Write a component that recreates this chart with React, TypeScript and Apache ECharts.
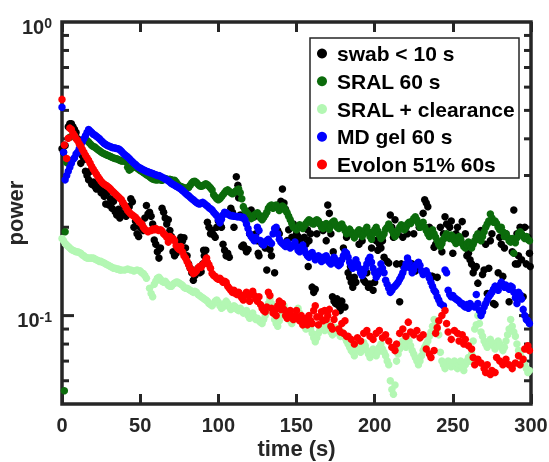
import React, { useEffect, useRef } from 'react';
import * as echarts from 'echarts';

const seriesNames = ['swab < 10 s', 'SRAL 60 s', 'SRAL + clearance', 'MD gel 60 s', 'Evolon 51% 60s'];
const seriesColors = ['#000000', '#0b6b0b', '#b3f7b3', '#0000ff', '#ff0000'];

const swab: number[][] = [
  [0,0.37],[1,0.36],[2,0.38],[4,0.44],[5,0.45],[6,0.45],[7,0.44],[8,0.43],[9,0.42],[10,0.4],[11,0.39],[12,0.33],[13,0.35],[14,0.34],[15,0.31],[16,0.3],[17,0.29],[18,0.31],[19,0.28],[20,0.285],[21,0.275],[22,0.27],[23,0.28],[24,0.27],[25,0.262],[26,0.268],[27,0.255],[28,0.24],[29,0.262],[30,0.238],[31,0.25],[32,0.232],[33,0.245],[34,0.226],[35,0.22],[36,0.23],[37,0.215],[38,0.223],[39,0.24],[40,0.235],[41,0.218],[42,0.228],[43,0.235],[44,0.25],[45,0.244],[46,0.2],[47,0.21],[48,0.19],[49,0.186],[50,0.2],[51,0.205],[52,0.195],[53,0.215],[54,0.237],[55,0.222],[56,0.225],[57,0.218],[58,0.205],[59,0.181],[60,0.175],[61,0.165],[62,0.157],[62.5,0.169],[63,0.17],[64,0.232],[65,0.225],[66,0.215],[67,0.205],[68,0.212],[69,0.195],[70,0.186],[71,0.165],[72,0.16],[73,0.163],[74,0.17],[75,0.18],[76,0.185],[77,0.179],[78,0.184],[79,0.17],[80,0.16],[81,0.15],[82,0.145],[83,0.14],[84,0.132],[85,0.137],[86,0.142],[87,0.145],[88,0.14],[89,0.141],[90,0.15],[90.6,0.167],[91,0.16],[92,0.167],[93,0.208],[94,0.2],[95,0.19],[96,0.195],[97,0.188],[98,0.185],[99,0.2],[100,0.21],[101,0.205],[102,0.2],[103,0.175],[104,0.167],[105,0.16],[106,0.163],[107,0.158],[108,0.232],[109,0.225],[110,0.2],[111.5,0.297],[112.5,0.278],[113,0.252],[114,0.22],[115,0.172],[116,0.174],[117,0.17],[118,0.165],[119,0.168],[120,0.19],[121,0.229],[122,0.22],[123,0.217],[124,0.19],[125,0.18],[125.5,0.163],[126,0.16],[128,0.175],[129,0.176],[130,0.17],[131,0.143],[133,0.168],[134,0.16],[136,0.14],[138,0.195],[139,0.19],[140,0.245],[141,0.27],[142,0.242],[143,0.23],[144,0.18],[145,0.196],[147,0.185],[148,0.205],[150,0.19],[151,0.186],[152,0.18],[153,0.2],[155,0.185],[156,0.175],[157,0.196],[157.5,0.147],[158,0.18],[159,0.19],[160,0.125],[161,0.12],[162,0.123],[163,0.19],[165,0.205],[167,0.195],[168,0.2],[169,0.18],[170,0.238],[171,0.223],[172,0.19],[173,0.116],[173.5,0.165],[174,0.112],[175,0.11],[176,0.114],[177,0.108],[178,0.104],[179,0.112],[180,0.17],[181,0.107],[182,0.185],[183,0.14],[184,0.135],[184.5,0.147],[185,0.13],[186,0.125],[187,0.135],[188,0.13],[190,0.175],[192,0.18],[193,0.132],[194,0.13],[195,0.14],[196,0.125],[197,0.128],[198,0.17],[199,0.122],[200,0.13],[201,0.18],[202,0.167],[203,0.175],[204,0.17],[205,0.18],[206,0.158],[208,0.153],[209,0.151],[210,0.22],[211,0.2],[212,0.185],[213,0.212],[214,0.15],[215,0.19],[216,0.1115],[217,0.15],[218,0.185],[219,0.145],[220,0.2],[221,0.19],[222,0.148],[224,0.15],[225,0.19],[226,0.142],[228,0.145],[228.5,0.2],[230,0.205],[231,0.223],[232,0.248],[233,0.242],[234,0.235],[235,0.2],[236.5,0.136],[237,0.136],[238,0.171],[239,0.175],[240,0.135],[242,0.2],[243,0.165],[244,0.19],[245,0.217],[246,0.205],[247,0.185],[248,0.2],[249,0.21],[250,0.163],[252,0.19],[253,0.2],[254,0.185],[255,0.18],[256,0.209],[258,0.19],[259,0.16],[260,0.163],[261,0.155],[262,0.15],[263,0.14],[264,0.145],[265,0.147],[266,0.129],[267,0.185],[268,0.195],[269,0.138],[270,0.143],[271,0.175],[272,0.119],[273,0.145],[274,0.18],[275,0.19],[276,0.11],[277,0.109],[279,0.14],[280,0.185],[281,0.175],[282,0.136],[283,0.17],[284,0.19],[286,0.1115],[288,0.165],[289,0.229],[290,0.15],[291,0.19],[291.5,0.15],[292,0.16],[293,0.2],[294,0.155],[295,0.116],[296,0.2],[297,0.15],[298,0.185],[299,0.163],[299.5,0.147]
];

const sral60: number[][] = [
  [1.5,0.0555],[2,0.193],[3,0.332],[5,0.405],[7,0.41],[16,0.395],[17,0.39],[18,0.385],[19,0.38],[20,0.377],[21,0.375],[22,0.371],[23,0.367],[24,0.364],[25,0.361],[26,0.358],[27,0.356],[28,0.354],[29,0.352],[30,0.35],[31,0.348],[32,0.346],[33,0.344],[34,0.343],[35,0.342],[36,0.34],[37,0.338],[38,0.336],[39,0.336],[40,0.337],[41,0.334],[42,0.32],[43,0.313],[44,0.316],[45,0.32],[46,0.322],[47,0.321],[48,0.318],[49,0.315],[50,0.312],[51,0.31],[52,0.307],[53,0.305],[54,0.302],[55,0.3],[56,0.297],[57,0.294],[58,0.292],[59,0.291],[60,0.29],[61,0.29],[62,0.291],[63,0.29],[64,0.289],[65,0.291],[66,0.293],[67,0.292],[68,0.29],[69,0.291],[70,0.29],[72,0.289],[73,0.285],[74,0.28],[75,0.277],[76,0.275],[77,0.274],[78,0.272],[79,0.272],[80,0.272],[81,0.273],[82,0.278],[83,0.283],[84,0.286],[85,0.287],[86,0.284],[87,0.28],[88,0.277],[89,0.276],[90,0.277],[91,0.279],[92,0.281],[93,0.279],[94,0.276],[95,0.272],[96,0.268],[97,0.258],[98,0.254],[99,0.25],[100,0.248],[101,0.25],[102,0.254],[103,0.258],[104,0.262],[105,0.266],[106,0.268],[107,0.265],[108,0.262],[109,0.26],[110,0.262],[111,0.265],[112,0.268],[113,0.27],[114,0.262],[115,0.25],[116,0.235],[117,0.229],[118,0.225],[119,0.222],[120,0.218],[121,0.214],[122,0.216],[123,0.22],[124,0.222],[125,0.224],[126,0.22],[127,0.215],[128,0.212],[129,0.216],[130,0.22],[131,0.225],[132,0.232],[133,0.236],[134,0.238],[135,0.232],[136,0.234],[137,0.238],[138,0.234],[139,0.228],[140,0.232],[141,0.236],[142,0.234],[143,0.228],[144,0.224],[145,0.218],[146,0.212],[147,0.206],[148,0.2],[149,0.198],[150,0.196],[151,0.2],[152,0.204],[153,0.2],[154,0.198],[155,0.202],[156,0.206],[157,0.209],[158,0.212],[159,0.21],[160,0.206],[161,0.205],[162,0.21],[163,0.212],[164,0.21],[165,0.205],[166,0.2],[167,0.198],[168,0.203],[169,0.206],[170,0.2],[171,0.197],[172,0.202],[173,0.208],[174,0.21],[175,0.205],[176,0.2],[177,0.198],[178,0.2],[179,0.205],[180,0.2],[181,0.195],[182,0.19],[183,0.193],[184,0.197],[185,0.193],[186,0.188],[187,0.184],[188,0.188],[189,0.193],[190,0.196],[191,0.19],[192,0.186],[193,0.19],[194,0.196],[195,0.2],[196,0.193],[197,0.186],[198,0.182],[199,0.19],[200,0.196],[201,0.2],[202,0.194],[203,0.188],[204,0.183],[205,0.186],[206,0.19],[207,0.197],[208,0.2],[209,0.205],[210,0.2],[211,0.195],[212,0.19],[213,0.186],[214,0.19],[215,0.195],[216,0.2],[217,0.204],[218,0.2],[219,0.196],[220,0.2],[221,0.205],[222,0.208],[223,0.206],[224,0.21],[225,0.214],[226,0.217],[227,0.212],[228,0.206],[229,0.2],[230,0.204],[231,0.208],[232,0.2],[233,0.195],[234,0.19],[235,0.186],[236,0.19],[237,0.196],[238,0.19],[239,0.185],[240,0.18],[241,0.175],[242,0.172],[243,0.176],[244,0.182],[245,0.186],[246,0.19],[247,0.187],[248,0.183],[249,0.188],[250,0.186],[251,0.18],[252,0.176],[253,0.18],[254,0.186],[255,0.182],[256,0.176],[257,0.172],[258,0.17],[259,0.174],[260,0.178],[261,0.174],[262,0.17],[263,0.175],[264,0.18],[265,0.186],[266,0.19],[267,0.185],[268,0.18],[269,0.186],[270,0.193],[271,0.2],[272,0.205],[273,0.21],[274,0.222],[275,0.215],[276,0.208],[277,0.21],[278,0.206],[279,0.2],[280,0.196],[281,0.2],[282,0.193],[283,0.186],[284,0.19],[285,0.185],[286,0.18],[287,0.178],[288,0.183],[289,0.163],[290,0.177],[291,0.184],[292,0.19],[293,0.193],[294,0.19],[295,0.186],[296,0.183],[297,0.186],[298,0.182],[299,0.18]
];

const sralClearance: number[][] = [
  [0,0.183],[1,0.18],[2,0.176],[3,0.174],[4,0.172],[5,0.17],[6,0.168],[7,0.167],[8,0.166],[9,0.165],[10,0.165],[11,0.164],[12,0.163],[13,0.161],[14,0.16],[15,0.158],[16,0.157],[17,0.157],[18,0.157],[19,0.157],[20,0.157],[21,0.156],[22,0.155],[23,0.154],[24,0.153],[25,0.153],[26,0.152],[27,0.151],[28,0.15],[29,0.149],[30,0.148],[31,0.147],[32,0.146],[33,0.145],[34,0.145],[35,0.144],[36,0.144],[37,0.143],[38,0.143],[40,0.143],[42,0.144],[44,0.143],[46,0.142],[48,0.143],[50,0.142],[51,0.14],[52,0.139],[53,0.137],[54,0.134],[56,0.124],[57,0.119],[58,0.116],[59,0.128],[60,0.131],[61,0.134],[62,0.135],[63,0.133],[64,0.131],[65,0.13],[66,0.131],[67,0.129],[68,0.127],[69,0.126],[70,0.126],[71,0.128],[72,0.129],[73,0.13],[74,0.13],[75,0.129],[76,0.128],[77,0.127],[78,0.125],[79,0.124],[80,0.124],[81,0.123],[82,0.122],[83,0.121],[84,0.12],[85,0.121],[86,0.12],[87,0.118],[88,0.117],[89,0.116],[90,0.115],[91,0.114],[92,0.113],[93,0.112],[94,0.11],[95,0.109],[96,0.108],[97,0.11],[98,0.112],[99,0.113],[100,0.111],[101,0.108],[102,0.106],[103,0.107],[104,0.11],[105,0.112],[106,0.11],[107,0.107],[108,0.105],[109,0.106],[110,0.108],[111,0.107],[112,0.105],[113,0.104],[114,0.106],[115,0.104],[116,0.102],[117,0.103],[118,0.104],[119,0.1],[120,0.098],[121,0.1],[122,0.102],[123,0.099],[124,0.097],[125,0.098],[126,0.096],[127,0.095],[128,0.094],[129,0.097],[130,0.1],[131,0.104],[132,0.11],[133,0.114],[134,0.11],[135,0.103],[136,0.097],[137,0.094],[138,0.092],[139,0.096],[140,0.1],[141,0.105],[142,0.108],[143,0.104],[144,0.1],[145,0.097],[146,0.096],[147,0.094],[148,0.097],[149,0.1],[150,0.103],[151,0.106],[152,0.102],[153,0.098],[154,0.095],[155,0.092],[156,0.09],[157,0.092],[158,0.095],[159,0.09],[160,0.087],[161,0.084],[162,0.0815],[163,0.084],[164,0.087],[165,0.09],[166,0.093],[167,0.091],[168,0.089],[169,0.09],[170,0.094],[171,0.092],[172,0.088],[173,0.086],[174,0.088],[175,0.091],[176,0.09],[177,0.087],[178,0.085],[179,0.088],[180,0.086],[181,0.084],[182,0.082],[183,0.08],[184,0.078],[185,0.076],[186,0.075],[187,0.073],[188,0.076],[189,0.079],[190,0.077],[191,0.075],[192,0.078],[193,0.081],[194,0.079],[195,0.076],[196,0.074],[197,0.072],[198,0.074],[199,0.077],[200,0.075],[201,0.073],[202,0.075],[203,0.078],[204,0.08],[205,0.077],[206,0.075],[207,0.073],[208,0.07],[209,0.068],[210,0.06],[211,0.056],[212,0.054],[213,0.058],[214,0.07],[215,0.074],[216,0.077],[217,0.08],[218,0.082],[219,0.08],[220,0.078],[221,0.08],[222,0.082],[223,0.079],[224,0.076],[225,0.074],[226,0.072],[227,0.07],[228,0.068],[229,0.07],[230,0.073],[231,0.076],[232,0.078],[233,0.08],[234,0.082],[235,0.085],[236,0.088],[237,0.092],[238,0.097],[239,0.094],[240,0.09],[241,0.086],[242,0.075],[243,0.07],[244,0.068],[245,0.066],[246,0.068],[247,0.07],[248,0.069],[249,0.067],[250,0.068],[251,0.07],[252,0.067],[253,0.066],[254,0.068],[255,0.07],[256,0.067],[257,0.065],[258,0.068],[259,0.07],[260,0.072],[261,0.07],[262,0.074],[263,0.082],[264,0.09],[265,0.093],[266,0.1],[267,0.094],[268,0.088],[269,0.085],[270,0.082],[271,0.08],[272,0.078],[273,0.08],[274,0.083],[275,0.081],[276,0.079],[277,0.077],[278,0.079],[279,0.082],[280,0.08],[281,0.078],[282,0.076],[283,0.078],[284,0.082],[285,0.086],[286,0.09],[287,0.097],[288,0.092],[289,0.088],[290,0.085],[291,0.08],[292,0.076],[293,0.074],[294,0.072],[295,0.07],[296,0.068],[297,0.066],[298,0.064],[299,0.065]
];

const mdGel: number[][] = [
  [0,0.512],[1,0.36],[2,0.29],[3,0.3],[4,0.31],[5,0.32],[6,0.33],[7,0.34],[8,0.345],[9,0.355],[10,0.36],[11,0.37],[12,0.378],[13,0.39],[14,0.4],[15,0.41],[16,0.42],[17,0.43],[18,0.425],[19,0.42],[20,0.415],[21,0.412],[22,0.408],[23,0.404],[24,0.4],[25,0.395],[26,0.39],[27,0.386],[28,0.383],[29,0.38],[30,0.378],[31,0.376],[32,0.374],[33,0.373],[34,0.372],[35,0.371],[36,0.37],[37,0.367],[38,0.363],[39,0.358],[40,0.354],[41,0.35],[42,0.347],[43,0.343],[44,0.338],[45,0.334],[46,0.33],[47,0.327],[48,0.323],[49,0.32],[50,0.318],[51,0.316],[52,0.314],[53,0.312],[54,0.31],[55,0.309],[56,0.307],[57,0.306],[58,0.305],[59,0.303],[60,0.302],[61,0.3],[62,0.3],[63,0.298],[64,0.296],[65,0.294],[66,0.292],[67,0.29],[68,0.288],[69,0.285],[70,0.282],[71,0.28],[72,0.278],[73,0.276],[74,0.274],[75,0.272],[76,0.27],[77,0.267],[78,0.264],[79,0.261],[80,0.258],[81,0.256],[82,0.253],[83,0.25],[84,0.248],[85,0.245],[86,0.243],[87,0.241],[88,0.24],[89,0.242],[90,0.243],[91,0.241],[92,0.238],[93,0.236],[94,0.233],[95,0.231],[96,0.229],[97,0.225],[98,0.222],[99,0.219],[100,0.212],[101,0.207],[102,0.213],[103,0.22],[104,0.225],[105,0.224],[106,0.222],[107,0.22],[108,0.219],[109,0.219],[110,0.218],[111,0.218],[112,0.217],[113,0.217],[114,0.217],[115,0.216],[116,0.216],[117,0.212],[118,0.205],[119,0.198],[120,0.19],[121,0.186],[122,0.183],[123,0.18],[124,0.185],[125,0.2],[126,0.195],[127,0.18],[128,0.176],[129,0.174],[130,0.178],[131,0.18],[132,0.182],[133,0.178],[134,0.176],[135,0.19],[136,0.198],[137,0.2],[138,0.19],[139,0.182],[140,0.178],[141,0.176],[142,0.174],[143,0.172],[144,0.178],[145,0.175],[146,0.17],[147,0.172],[148,0.174],[149,0.178],[150,0.172],[151,0.167],[152,0.165],[153,0.17],[154,0.174],[155,0.168],[156,0.163],[157,0.16],[158,0.158],[159,0.162],[160,0.164],[161,0.16],[162,0.155],[163,0.158],[164,0.16],[165,0.157],[166,0.153],[167,0.158],[168,0.155],[169,0.16],[170,0.156],[171,0.152],[172,0.15],[173,0.155],[174,0.158],[175,0.155],[176,0.15],[177,0.148],[178,0.15],[179,0.155],[180,0.16],[181,0.165],[182,0.163],[183,0.158],[184,0.152],[185,0.148],[186,0.145],[187,0.15],[188,0.155],[189,0.15],[190,0.145],[191,0.14],[192,0.137],[193,0.14],[194,0.145],[195,0.15],[196,0.155],[197,0.158],[198,0.152],[199,0.145],[200,0.14],[201,0.135],[202,0.138],[203,0.142],[204,0.15],[205,0.145],[206,0.14],[207,0.132],[208,0.128],[209,0.124],[210,0.12],[211,0.122],[212,0.125],[213,0.126],[214,0.128],[215,0.13],[216,0.133],[217,0.136],[218,0.14],[219,0.145],[220,0.15],[221,0.157],[222,0.152],[223,0.145],[224,0.14],[225,0.143],[226,0.148],[227,0.15],[228,0.152],[229,0.148],[230,0.142],[231,0.138],[232,0.14],[233,0.142],[234,0.138],[235,0.134],[236,0.13],[237,0.126],[238,0.122],[239,0.12],[240,0.116],[241,0.113],[242,0.11],[244,0.108],[245,0.143],[246,0.14],[247,0.122],[248,0.118],[249,0.116],[250,0.117],[251,0.115],[252,0.114],[253,0.113],[254,0.112],[255,0.11],[256,0.11],[257,0.108],[258,0.107],[259,0.109],[260,0.106],[261,0.11],[262,0.108],[264,0.107],[265,0.118],[266,0.11],[267,0.104],[268,0.1],[269,0.103],[270,0.107],[271,0.11],[272,0.113],[273,0.116],[274,0.118],[275,0.12],[276,0.123],[277,0.126],[278,0.125],[279,0.122],[280,0.127],[281,0.13],[282,0.128],[283,0.125],[284,0.127],[285,0.125],[286,0.123],[287,0.126],[288,0.125],[289,0.12],[290,0.115],[291,0.11],[292,0.12],[293,0.118],[294,0.114],[295,0.105],[296,0.1],[297,0.097],[298,0.096],[299,0.094]
];

const evolon: number[][] = [
  [0,0.545],[1.5,0.381],[3,0.343],[4,0.402],[5,0.435],[6,0.43],[7,0.418],[8,0.41],[9,0.4],[10,0.395],[11,0.385],[12,0.378],[13,0.368],[14,0.36],[15,0.352],[16,0.345],[17,0.338],[18,0.33],[19,0.322],[20,0.315],[21,0.309],[22,0.303],[23,0.297],[24,0.292],[25,0.287],[26,0.283],[27,0.28],[28,0.278],[29,0.276],[30,0.273],[31,0.27],[32,0.266],[33,0.263],[34,0.26],[35,0.257],[36,0.254],[37,0.251],[38,0.248],[39,0.243],[40,0.238],[41,0.233],[42,0.228],[43,0.225],[44,0.222],[45,0.22],[46,0.218],[47,0.216],[48,0.213],[49,0.21],[50,0.207],[51,0.205],[52,0.2],[53,0.197],[54,0.195],[55,0.193],[57,0.195],[58,0.197],[59,0.196],[60,0.198],[61,0.196],[62,0.195],[63,0.196],[64,0.194],[65,0.19],[66,0.188],[67,0.185],[68,0.178],[69,0.186],[70,0.182],[71,0.183],[72,0.18],[73,0.173],[74,0.17],[75,0.168],[76,0.172],[77,0.165],[78,0.16],[79,0.157],[80,0.153],[81,0.149],[82,0.145],[83,0.142],[84,0.139],[85,0.14],[86,0.142],[87,0.145],[88,0.147],[89,0.146],[90,0.149],[91,0.151],[92,0.155],[92.5,0.157],[93,0.152],[94,0.149],[95,0.145],[96,0.139],[97,0.137],[98,0.136],[99,0.134],[100,0.133],[101,0.134],[102,0.132],[103,0.13],[104,0.131],[105,0.13],[106,0.126],[107,0.124],[108,0.122],[109,0.12],[110,0.122],[111,0.119],[112,0.118],[113,0.12],[114,0.117],[115,0.115],[116,0.113],[117,0.118],[118,0.12],[119,0.117],[120,0.112],[121,0.118],[122,0.121],[123,0.117],[124,0.114],[125,0.112],[126,0.116],[127,0.109],[128,0.106],[129,0.104],[130,0.103],[131,0.107],[132,0.12],[133,0.117],[134,0.106],[135,0.102],[136,0.104],[137,0.1],[138,0.108],[139,0.112],[140,0.105],[141,0.11],[142,0.105],[143,0.1],[144,0.098],[145,0.102],[146,0.104],[147,0.099],[148,0.097],[149,0.1],[150,0.104],[151,0.098],[152,0.096],[153,0.1],[154,0.093],[155,0.095],[156,0.098],[157,0.093],[158,0.1],[159,0.096],[160,0.094],[161,0.104],[162,0.108],[163,0.099],[164,0.093],[165,0.099],[166,0.103],[167,0.096],[168,0.104],[169,0.097],[170,0.1],[171,0.105],[172,0.092],[173,0.09],[174,0.097],[175,0.102],[177,0.09],[178,0.088],[179,0.094],[180,0.087],[181,0.096],[182,0.085],[183,0.085],[185,0.083],[187,0.08],[189,0.084],[191,0.082],[193,0.087],[195,0.089],[197,0.085],[199,0.083],[201,0.087],[203,0.089],[205,0.084],[207,0.086],[209,0.082],[211,0.078],[213,0.076],[214,0.08],[216,0.087],[218,0.09],[220,0.085],[221.5,0.095],[223,0.088],[225,0.086],[227,0.089],[229,0.084],[231,0.086],[233,0.077],[235,0.074],[236,0.072],[238,0.076],[239,0.087],[240,0.091],[241,0.096],[243,0.1],[245,0.104],[246,0.094],[247,0.088],[249,0.083],[251,0.089],[253,0.087],[254,0.082],[256,0.086],[257,0.08],[258,0.083],[260,0.079],[262,0.077],[263,0.072],[264,0.068],[266,0.071],[268,0.069],[270,0.066],[271,0.064],[272,0.068],[274,0.063],[275,0.065],[277,0.064],[278,0.072],[280,0.07],[282,0.068],[284,0.071],[286,0.068],[288,0.066],[290,0.069],[292,0.073],[293,0.068],[295,0.071],[296,0.077],[298,0.079],[299,0.076]
];

const xTickInterval = 50;
const xMin = 0;
const xMax = 300;
const yMin = 0.05;
const yMax = 1;
const yMajorTicks = [0.1];
const yMinorTicks = [0.06, 0.07, 0.08, 0.09, 0.2, 0.3, 0.4, 0.5, 0.6, 0.7, 0.8, 0.9];

const FONT = '"Liberation Sans", Arial, Helvetica, sans-serif';
const AX = '#262626';

export default function App() {
  const ref = useRef<HTMLDivElement>(null);
  useEffect(() => {
    const chart = echarts.init(ref.current as HTMLDivElement, null, { renderer: 'svg' });
    const allData = [swab, sral60, sralClearance, mdGel, evolon];
    const scatterSeries = allData.map((d, i) => ({
      name: seriesNames[i],
      type: 'scatter',
      data: d,
      symbol: 'circle',
      symbolSize: 7.5,
      clip: false,
      itemStyle: { color: seriesColors[i], opacity: 1 },
      emphasis: { disabled: true },
    }));
    const tickData = [
      ...yMajorTicks.map((v) => [xMin, v, 1]),
      ...yMinorTicks.map((v) => [xMin, v, 0]),
    ];
    chart.setOption({
      animation: false,
      textStyle: { fontFamily: FONT },
      grid: {
        left: 62, right: 18, top: 22, bottom: 58,
        outerBoundsMode: 'none',
        containLabel: false,
        show: true, borderColor: AX, borderWidth: 3.5, backgroundColor: 'transparent',
      },
      legend: {
        data: seriesNames,
        orient: 'vertical',
        left: 310, top: 38,
        backgroundColor: '#ffffff',
        borderColor: AX, borderWidth: 1.5, borderRadius: 0,
        padding: [5, 4, 3, 7],
        itemWidth: 20, itemHeight: 10, itemGap: 6.75,
        icon: 'circle',
        selectedMode: false,
        textStyle: { fontFamily: FONT, fontWeight: 'bold', fontSize: 21, lineHeight: 20, color: '#000' },
      },
      xAxis: [
        {
          type: 'value', min: xMin, max: xMax, interval: xTickInterval,
          name: 'time (s)', nameLocation: 'middle', nameGap: 33, nameMoveOverlap: false,
          nameTextStyle: { fontFamily: FONT, fontWeight: 'bold', fontSize: 22, color: AX },
          axisLine: { show: false },
          axisTick: { show: true, inside: true, length: 10, lineStyle: { color: AX, width: 3 } },
          axisLabel: { margin: 11, fontFamily: FONT, fontWeight: 'bold', fontSize: 20, color: AX },
          splitLine: { show: false },
        },
        {
          type: 'value', position: 'top', min: xMin, max: xMax, interval: xTickInterval,
          axisLine: { show: false },
          axisTick: { show: true, inside: true, length: 10, lineStyle: { color: AX, width: 3 } },
          axisLabel: { show: false },
          splitLine: { show: false },
        },
      ],
      yAxis: {
        type: 'log', logBase: 10, min: yMin, max: yMax,
        name: 'power', nameLocation: 'middle', nameGap: 36, nameMoveOverlap: false,
        nameTextStyle: { fontFamily: FONT, fontWeight: 'bold', fontSize: 22, color: AX },
        axisLine: { show: false },
        axisTick: { show: false },
        splitLine: { show: false },
        minorTick: { show: false },
        axisLabel: {
          margin: 10,
          fontFamily: FONT,
          color: AX,
          formatter: (v: number) => {
            const l = Math.log10(v);
            const e = Math.round(l);
            if (Math.abs(l - e) > 1e-6) return '';
            return '{b|10}{s|' + e + '}';
          },
          rich: {
            b: { fontFamily: FONT, fontWeight: 'bold', fontSize: 20, lineHeight: 20, color: AX, padding: [9, 0, 0, 0] },
            s: { fontFamily: FONT, fontWeight: 'bold', fontSize: 14, lineHeight: 14, color: AX, verticalAlign: 'top', padding: [4, 0, 0, 0] },
          },
        },
      },
      series: [
        ...scatterSeries,
        {
          type: 'custom',
          name: 'yticks',
          silent: true,
          clip: false,
          z: 1,
          data: tickData,
          encode: { x: 0, y: 1 },
          renderItem: (params: any, api: any) => {
            const v = api.value(1);
            const major = api.value(2) === 1;
            const pL = api.coord([xMin, v]);
            const pR = api.coord([xMax, v]);
            const len = major ? 12 : 7;
            const style = { stroke: AX, lineWidth: 3 };
            return {
              type: 'group',
              children: [
                { type: 'line', shape: { x1: pL[0], y1: pL[1], x2: pL[0] + len, y2: pL[1] }, style },
                { type: 'line', shape: { x1: pR[0] - len, y1: pR[1], x2: pR[0], y2: pR[1] }, style },
              ],
            };
          },
        },
      ],
    });
    return () => chart.dispose();
  }, []);
  return <div ref={ref} style={{ position: 'fixed', left: 0, top: 0, width: 549, height: 462 }} />;
}
